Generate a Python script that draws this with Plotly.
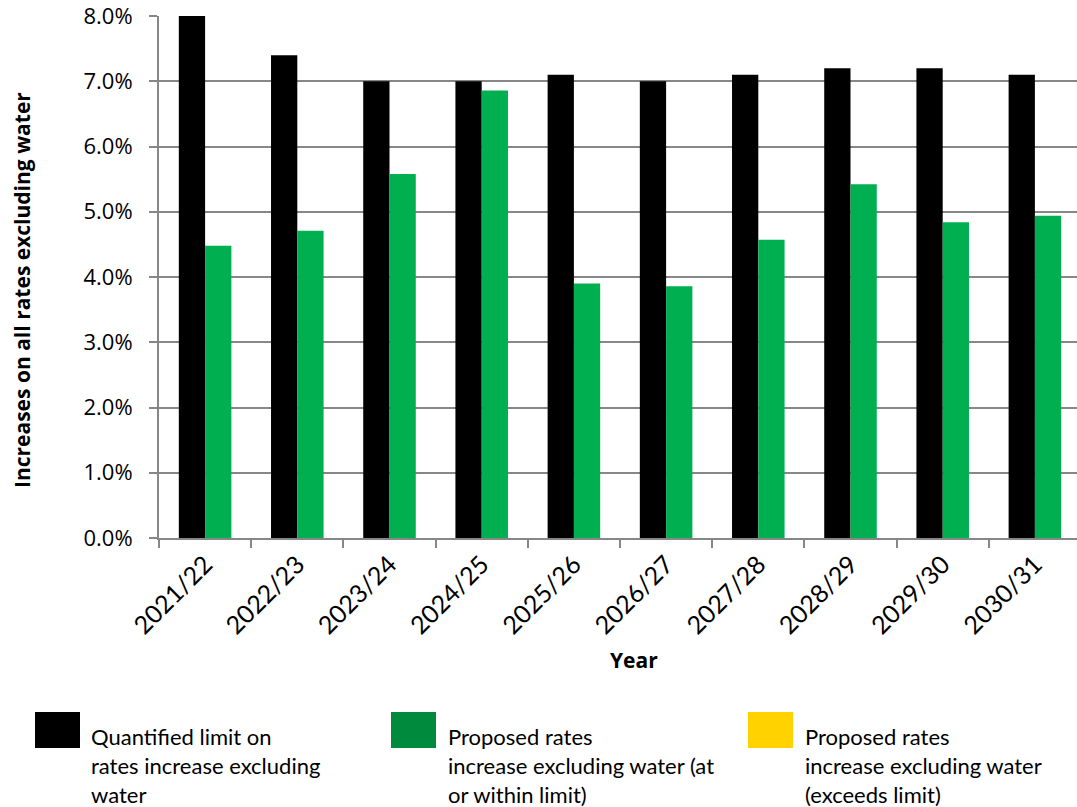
import plotly.graph_objects as go

# Financial years and rate increases (%)
years = ["2021/22", "2022/23", "2023/24", "2024/25", "2025/26",
         "2026/27", "2027/28", "2028/29", "2029/30", "2030/31"]
limit_pct = [8.0, 7.4, 7.0, 7.0, 7.1, 7.0, 7.1, 7.2, 7.2, 7.1]
proposed_pct = [4.48, 4.71, 5.58, 6.86, 3.90, 3.86, 4.57, 5.42, 4.84, 4.94]

legend_items = [
    ("#000000", ["Quantified limit on", "rates increase excluding", "water"]),
    ("#008a3e", ["Proposed rates", "increase excluding water (at", "or within limit)"]),
    ("#ffd200", ["Proposed rates", "increase excluding water", "(exceeds limit)"]),
]

W, H = 1077, 807
ML, MR, MT, MB = 159, 0, 16, 269
PW, PH = W - ML - MR, H - MT - MB
BODY_FONT = "Lato"
LABEL_FONT = "Open Sans"
GRID = "#878787"


def px_x(x):
    return (x - ML) / PW


def px_y(y):
    return (H - MB - y) / PH


fig = go.Figure()
fig.add_trace(go.Bar(x=years, y=limit_pct, marker=dict(color="#000000", line=dict(width=0)),
                     showlegend=False))
fig.add_trace(go.Bar(x=years, y=proposed_pct, marker=dict(color="#00b050", line=dict(width=0)),
                     showlegend=False))

shapes = []
annotations = []
box_x = [35, 391, 748]
text_x = [89, 446, 803]
for (color, lines), bx, tx in zip(legend_items, box_x, text_x):
    shapes.append(dict(type="rect", xref="paper", yref="paper",
                       x0=px_x(bx), x1=px_x(bx + 45), y0=px_y(748), y1=px_y(712),
                       fillcolor=color, line=dict(width=0)))
    for i, line in enumerate(lines):
        annotations.append(dict(xref="paper", yref="paper", x=px_x(tx), y=px_y(736 + 29 * i),
                                text=line, showarrow=False, xanchor="left", yanchor="middle",
                                font=dict(family=BODY_FONT, size=22, color="#000000")))

annotations.append(dict(xref="paper", yref="paper", x=px_x(634), y=px_y(660),
                        text="<b>Year</b>", showarrow=False, xanchor="center", yanchor="middle",
                        font=dict(family=LABEL_FONT, size=21, color="#000000")))
annotations.append(dict(xref="paper", yref="paper", x=px_x(22), y=px_y(290),
                        text="<b>Increases on all rates excluding water</b>", textangle=-90,
                        showarrow=False, xanchor="center", yanchor="middle",
                        font=dict(family=LABEL_FONT, size=21, color="#000000")))

fig.update_layout(
    width=W, height=H,
    margin=dict(l=ML, r=MR, t=MT, b=MB, pad=0),
    paper_bgcolor="white", plot_bgcolor="white",
    barmode="group", bargap=0.43, bargroupgap=0,
    font=dict(family=BODY_FONT, size=18, color="#000000"),
    shapes=shapes, annotations=annotations,
    xaxis=dict(range=[-0.5, 9.5 - 4 / 92.2], tickson="boundaries", ticks="outside",
               ticklen=8, tickwidth=2, tickcolor=GRID, tickangle=-45,
               showline=True, linecolor=GRID, linewidth=2, showgrid=False,
               tickfont=dict(family=BODY_FONT, size=25, color="#000000")),
    yaxis=dict(range=[0, 8], dtick=1, tickformat=".1f", ticksuffix="%",
               ticks="outside", ticklen=8, tickwidth=2, tickcolor=GRID,
               ticklabelstandoff=12, ticklabeloverflow="allow",
               showline=True, linecolor=GRID, linewidth=2,
               showgrid=True, gridcolor=GRID, gridwidth=2, zeroline=False,
               tickfont=dict(family=LABEL_FONT, size=22, color="#000000")),
)

fig.write_html("out.html")
